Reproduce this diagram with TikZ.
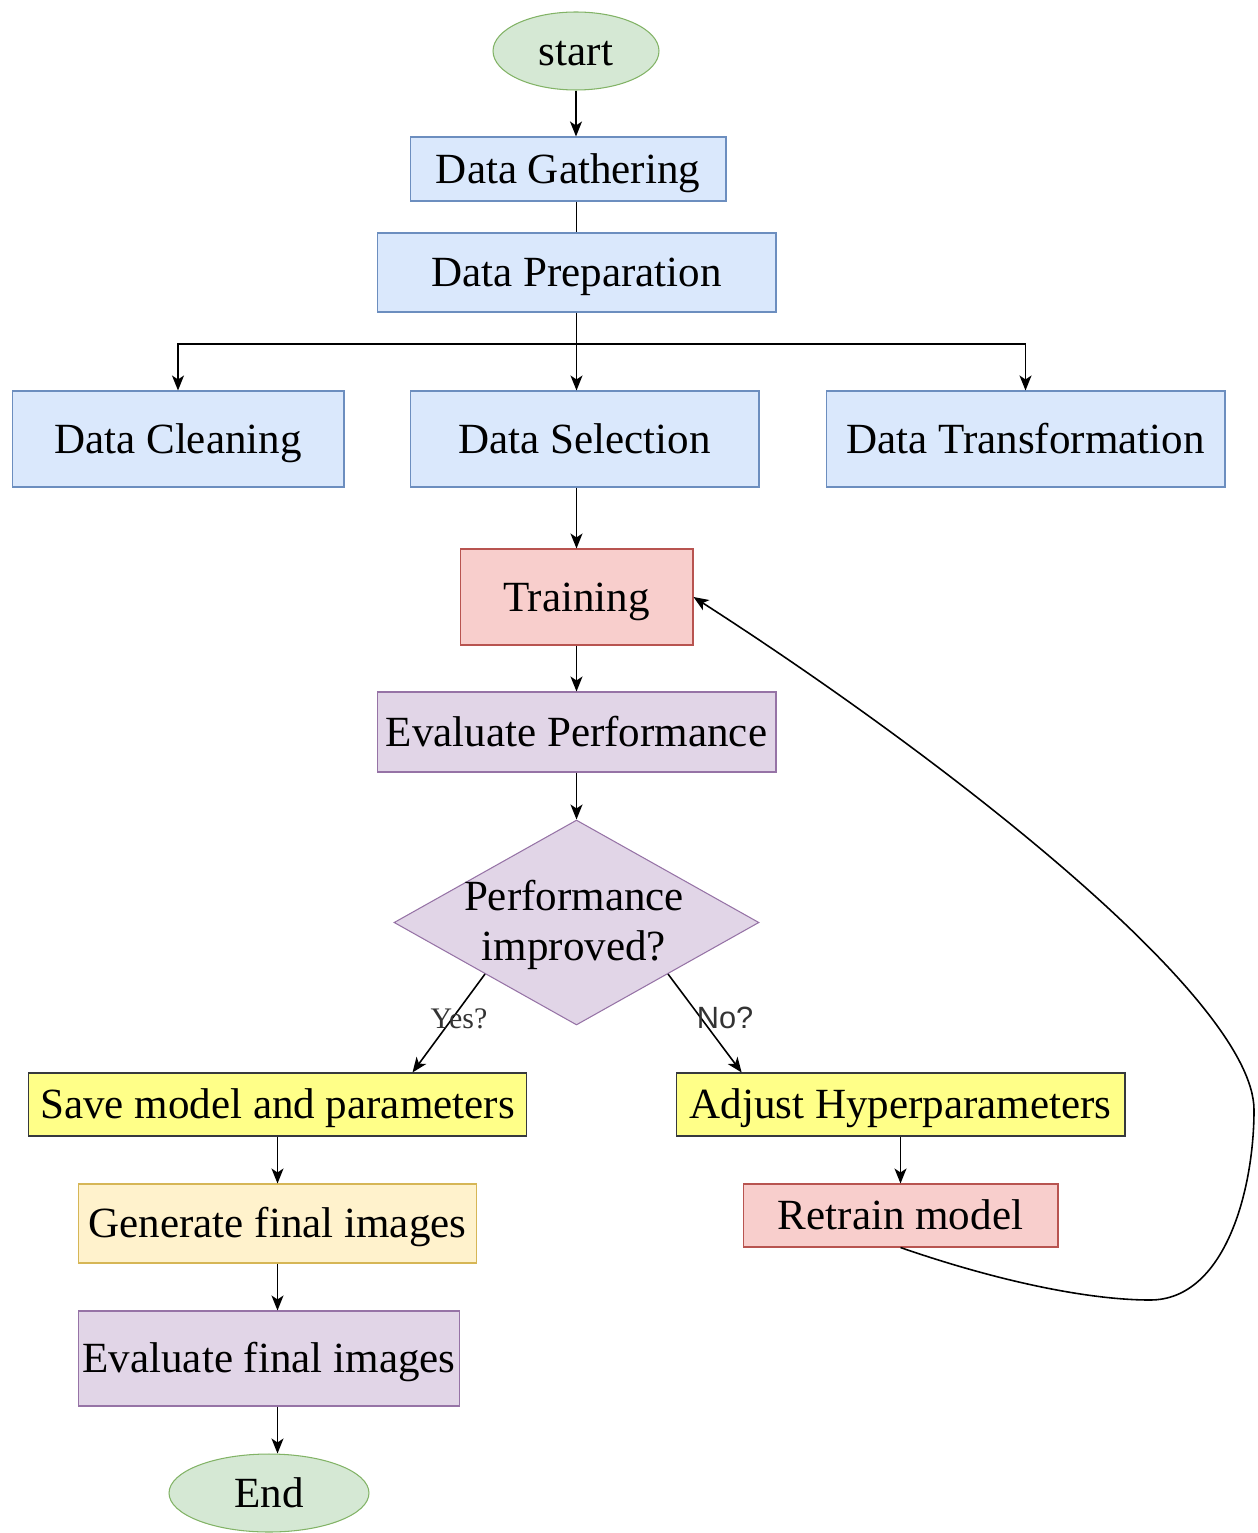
\documentclass[tikz,border=0pt]{standalone}
\usepackage{fontspec}
\setmainfont{Liberation Serif}
\newfontfamily\labelsans{Liberation Sans}
\usetikzlibrary{shapes.geometric,arrows.meta,calc}

\definecolor{grfill}{HTML}{D5E8D4}\definecolor{grline}{HTML}{82B366}
\definecolor{blfill}{HTML}{DAE8FC}\definecolor{blline}{HTML}{6C8EBF}
\definecolor{rdfill}{HTML}{F8CECC}\definecolor{rdline}{HTML}{B85450}
\definecolor{pufill}{HTML}{E1D5E7}\definecolor{puline}{HTML}{9673A6}
\definecolor{ylfill}{HTML}{FFFF88}\definecolor{ylline}{HTML}{36393D}
\definecolor{orfill}{HTML}{FFF2CC}\definecolor{orline}{HTML}{D6B656}

\begin{document}
\begin{tikzpicture}[x=0.02cm,y=-0.02cm,
  base/.style={inner sep=0pt, line width=0.6pt, font=\fontsize{24.5}{28.5}\selectfont, align=center},
  box/.style={base, rectangle, text height=21.8pt, text depth=5.4pt},
  oval/.style={base, ellipse, draw=grline, fill=grfill, text height=21.8pt, text depth=5.4pt},
  bluebox/.style={box, draw=blline, fill=blfill},
  redbox/.style={box, draw=rdline, fill=rdfill},
  purplebox/.style={box, draw=puline, fill=pufill},
  yellowbox/.style={box, draw=ylline, fill=ylfill},
  orangebox/.style={box, draw=orline, fill=orfill},
  link/.style={line width=0.9pt, draw=black},
  arrowlink/.style={link, -{Stealth[length=0.3cm,width=0.24cm,inset=0.08cm]}},
  serlabel/.style={text=black!80, font=\fontsize{17}{20}\selectfont, inner sep=0pt},
  sanslabel/.style={text=black!80, font=\labelsans\fontsize{17.5}{20}\selectfont, inner sep=0pt}
]
\useasboundingbox (0,0) rectangle (1257,1533);

% nodes
\node[oval, minimum width=3.32cm, minimum height=1.56cm] (start) at (576,51) {start};
\node[bluebox, minimum width=6.32cm, minimum height=1.28cm] (gather) at (568,169) {Data Gathering};
\node[bluebox, minimum width=7.98cm, minimum height=1.58cm] (prep) at (576.5,272.5) {Data Preparation};
\node[bluebox, minimum width=6.64cm, minimum height=1.92cm] (clean) at (178,439) {Data Cleaning};
\node[bluebox, minimum width=6.98cm, minimum height=1.92cm] (select) at (584.5,439) {Data Selection};
\node[bluebox, minimum width=7.98cm, minimum height=1.92cm] (transf) at (1025.5,439) {Data Transformation};
\node[redbox, minimum width=4.66cm, minimum height=1.92cm] (train) at (576.5,597) {Training};
\node[purplebox, minimum width=7.98cm, minimum height=1.60cm] (evalperf) at (576.5,732) {Evaluate Performance};
% decision diamond, its two-line question set on top
\node[base, diamond, draw=puline, fill=pufill, minimum width=7.3cm, minimum height=4.1cm] (dia) at (576.5,922.5) {};
\node[base] (diatext) at (574,925) {Performance\\improved?};
\node[yellowbox, minimum width=9.98cm, minimum height=1.26cm] (save) at (277.5,1104.5) {Save model and parameters};
\node[yellowbox, minimum width=8.98cm, minimum height=1.26cm] (adjust) at (900.5,1104.5) {Adjust Hyperparameters};
\node[redbox, minimum width=6.30cm, minimum height=1.26cm] (retrain) at (900.5,1215.5) {Retrain model};
\node[orangebox, minimum width=7.98cm, minimum height=1.58cm] (generate) at (277.5,1223.5) {Generate final images};
\node[purplebox, minimum width=7.64cm, minimum height=1.90cm] (evalfin) at (269,1358.5) {Evaluate final images};
\node[oval, minimum width=4.0cm, minimum height=1.56cm] (end) at (269,1493) {End};

% top chain
\draw[arrowlink] (start.south) -- (start.south |- gather.north);
\draw[link] (prep.north |- gather.south) -- (prep.north);
\coordinate (branch) at ($(prep.south)+(0,31.5)$);
\draw[link] (prep.south) -- (branch);
\draw[arrowlink] (branch) -| (clean.north);
\draw[arrowlink] (branch) -- (branch |- select.north);
\draw[arrowlink] (branch) -| (transf.north);
\draw[arrowlink] (train.north |- select.south) -- (train.north);
\draw[arrowlink] (train.south) -- (evalperf.north);
\draw[arrowlink] (evalperf.south) -- (dia.north);

% decision branches
\coordinate (yesfrom) at ($(dia.west)!0.5!(dia.south)$);
\coordinate (yesto) at ($(save.north west)!0.77!(save.north east)$);
\coordinate (nofrom) at ($(dia.east)!0.5!(dia.south)$);
\coordinate (noto) at ($(adjust.north west)!0.147!(adjust.north east)$);
\draw[arrowlink] (yesfrom) -- (yesto);
\draw[arrowlink] (nofrom) -- (noto);
\node[serlabel] (yes) at (459,1019) {Yes?};
\node[sanslabel] (no) at (725,1018) {No?};

% left column
\draw[arrowlink] (save.south) -- (generate.north);
\draw[arrowlink] (generate.south) -- (generate.south |- evalfin.north);
\draw[arrowlink] (generate.south |- evalfin.south) -- (generate.south |- end.north);

% right column and retraining loop
\draw[arrowlink] (adjust.south) -- (retrain.north);
\coordinate (loopa) at (1150,1300);
\coordinate (loopb) at (1254,1110);
\draw[arrowlink] (retrain.south) .. controls (1000,1282) and (1090,1300) .. (loopa)
  .. controls (1225,1300) and (1254,1190) .. (loopb)
  .. controls (1254,1000) and (950,762) .. (train.east);
\end{tikzpicture}
\end{document}
